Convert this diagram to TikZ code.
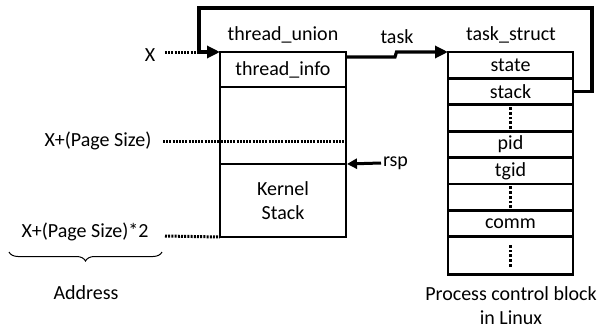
\documentclass[tikz,border=0pt]{standalone}
\usepackage{fontspec}
\setmainfont{Carlito}
\usetikzlibrary{arrows.meta,decorations.pathreplacing}
\begin{document}
\begin{tikzpicture}[x=1pt,y=-1pt,
  every node/.style={font=\fontsize{20}{24}\selectfont,inner sep=0pt,outer sep=0pt},
  cell/.style={draw,line width=2.8pt,anchor=north west},
  lcell/.style={cell,minimum width=126pt},
  rcell/.style={cell,minimum width=125pt,minimum height=26.4pt},
  addrline/.style={line width=3pt,dash pattern=on 2pt off 1.2pt},
  vdots/.style={line width=3.8pt,dash pattern=on 2.8pt off 2pt},
  link/.style={line width=3.2pt,-{Triangle[length=13pt,width=12pt]}},
  ]
\useasboundingbox (0,0) rectangle (598,333);

% thread_union: thread_info on top of the kernel stack
\node[lcell,minimum height=35pt] (tinfo) at (220,52) {thread\_info};
\node[lcell,minimum height=77pt] (gap) at (220,87) {};
\node[lcell,minimum height=73pt,align=center] (kstack) at (220,164) {Kernel\\Stack};
\node (tunion) at (283,35) {thread\_union};

% task_struct fields
\node[rcell] (state) at (448,52) {state};
\node[rcell] (stack) at (448,78.4) {stack};
\node[rcell] (d1) at (448,104.8) {};
\node[rcell] (pid) at (448,131.2) {pid};
\node[rcell] (tgid) at (448,157.6) {tgid};
\node[rcell] (d2) at (448,184) {};
\node[rcell] (comm) at (448,210.4) {comm};
\node[rcell,minimum height=38pt] (d3) at (448,236.8) {};
\node (tstruct) at (511,35) {task\_struct};
\foreach \d in {d1,d2,d3}
  \draw[vdots] ([yshift=-11pt]\d.center) -- ([yshift=11pt]\d.center);

\node[align=center] (pcb) at (511,306) {Process control block\\in Linux};

% addresses
\node (x0) at (150,55) {X};
\node (x1) at (98,141) {X+(Page Size)};
\node (x2) at (85,232) {X+(Page Size)*2};
\coordinate (xhook) at (199,52);
\draw[addrline] (165,52) -- (xhook);
\draw[addrline] (163,141) -- (gap.east |- 0,141);
\draw[addrline] (165,236) -- (kstack.south west);

\draw[decorate,decoration={brace,amplitude=9pt},line width=1pt]
  (162,252) -- (9,252) coordinate[midway] (bmid);
\node (addr) at (86,293) {Address};

% stack pointer
\node[anchor=west] (rsp) at (383,163) {rsp};
\draw[line width=3pt,-{Triangle[length=10pt,width=10pt]}] ([xshift=-2pt]rsp.west) -- (347,164);

% thread_info.task -> task_struct
\node (tasklbl) at (397,37) {task};
\coordinate (step) at (395,57);
\draw[link] ([yshift=-5pt]tinfo.north east) -- (step) -- ++(1.5,-5) -- (state.north west);

% task_struct.stack -> thread_union
\coordinate (loopR) at (592,8);
\coordinate (loopL) at (199,8);
\draw[link] (stack.east) -| (loopR) -- (loopL) |- (tinfo.north west);
\end{tikzpicture}
\end{document}
